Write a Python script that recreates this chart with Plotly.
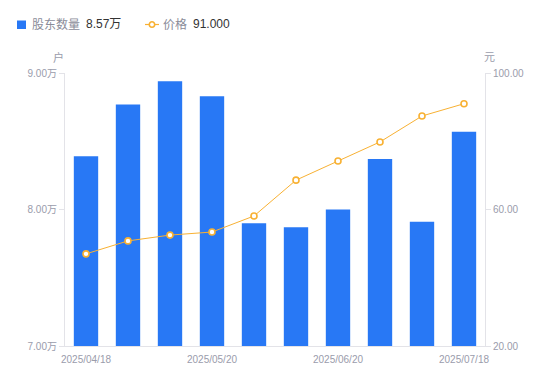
import plotly.graph_objects as go

dates = ["2025/04/18", "2025/04/30", "2025/05/09", "2025/05/20", "2025/05/30",
         "2025/06/10", "2025/06/20", "2025/06/30", "2025/07/10", "2025/07/18"]
holders = [8.39, 8.77, 8.94, 8.83, 7.90, 7.87, 8.00, 8.37, 7.91, 8.57]  # 万户
price = [47.0, 50.8, 52.5, 53.4, 58.1, 68.6, 74.2, 79.8, 87.4, 91.0]
shown_ticks = ["2025/04/18", "2025/05/20", "2025/06/20", "2025/07/18"]
left_ticks = [7.0, 8.0, 9.0]
right_ticks = [20, 60, 100]
legend_names = ["股东数量", "价格"]
legend_values = ["8.57万", "91.000"]

BLUE = "#2878F5"
ORANGE = "#F8B133"
GRAY = "#9A9CAB"
AXIS = "#E3E3E8"

# page pixel -> paper coords (figure sits at an 8px body offset)
PL, PR, PT, PB = 65, 485, 73, 346
def px(x):
    return (x - PL) / (PR - PL)
def py(y):
    return (PB - y) / (PB - PT)

fig = go.Figure()
fig.add_trace(go.Bar(
    x=dates, y=holders, name=legend_names[0],
    marker=dict(color=BLUE, line=dict(width=0)), yaxis="y",
))
fig.add_trace(go.Scatter(
    x=dates, y=price, name=legend_names[1],
    mode="lines+markers", yaxis="y2",
    line=dict(color=ORANGE, width=1),
    marker=dict(size=6, color="white", line=dict(color=ORANGE, width=1.6)),
))

shapes = [
    dict(type="rect", xref="paper", yref="paper", x0=px(17), x1=px(26), y0=py(29), y1=py(20.5),
         fillcolor=BLUE, line=dict(width=0), layer="above"),
    dict(type="line", xref="paper", yref="paper", x0=px(145), x1=px(159), y0=py(24.5), y1=py(24.5),
         line=dict(color=ORANGE, width=1.2)),
    dict(type="circle", xref="paper", yref="paper", x0=px(149.3), x1=px(154.7), y0=py(27.2), y1=py(21.8),
         fillcolor="white", line=dict(color=ORANGE, width=1.6)),
]

leg_font = dict(size=12, color="#8A8C99", family="Liberation Sans, Noto Sans CJK SC, sans-serif")
val_font = dict(size=12, color="#333333", family="Liberation Sans, Noto Sans CJK SC, sans-serif")
annotations = [
    dict(text=legend_names[0], x=px(31), y=py(24.5), font=leg_font),
    dict(text=legend_values[0], x=px(85), y=py(24.5), font=val_font),
    dict(text=legend_names[1], x=px(162), y=py(24.5), font=leg_font),
    dict(text=legend_values[1], x=px(192), y=py(24.5), font=val_font),
    dict(text="户", x=px(52), y=py(57), font=dict(size=11, color=GRAY)),
    dict(text="元", x=px(483), y=py(57), font=dict(size=11, color=GRAY)),
]
for a in annotations:
    a.update(xref="paper", yref="paper", xanchor="left", yanchor="middle",
             showarrow=False, borderpad=0)

fig.update_layout(
    width=542, height=373,
    margin=dict(l=57, r=65, t=65, b=35, autoexpand=False),
    paper_bgcolor="white", plot_bgcolor="white",
    font=dict(family="Liberation Sans, Noto Sans CJK SC, sans-serif", size=10, color=GRAY),
    bargap=0.42,
    showlegend=False,
    xaxis=dict(
        type="category", categoryorder="array", categoryarray=dates,
        tickmode="array", tickvals=shown_ticks, ticktext=shown_ticks,
        showline=True, linecolor=AXIS, linewidth=1, ticks="", showgrid=False,
        tickfont=dict(size=10, color=GRAY), range=[-0.5, 9.5], automargin=False,
        ticklabelstandoff=4,
    ),
    yaxis=dict(
        range=[7.0, 9.0], tickvals=left_ticks,
        ticktext=[f"{v:.2f}万" for v in left_ticks],
        showline=True, linecolor=AXIS, linewidth=1, ticks="outside", ticklen=5,
        tickcolor=AXIS, showgrid=False, zeroline=False,
        tickfont=dict(size=10, color=GRAY), automargin=False,
    ),
    yaxis2=dict(
        range=[20, 100], tickvals=right_ticks,
        ticktext=[f"{v:.2f}" for v in right_ticks],
        overlaying="y", side="right",
        showline=True, linecolor=AXIS, linewidth=1, ticks="outside", ticklen=5,
        tickcolor=AXIS, showgrid=False, zeroline=False,
        tickfont=dict(size=10, color=GRAY), automargin=False,
    ),
    shapes=shapes,
    annotations=annotations,
)

fig.write_html("out.html")
